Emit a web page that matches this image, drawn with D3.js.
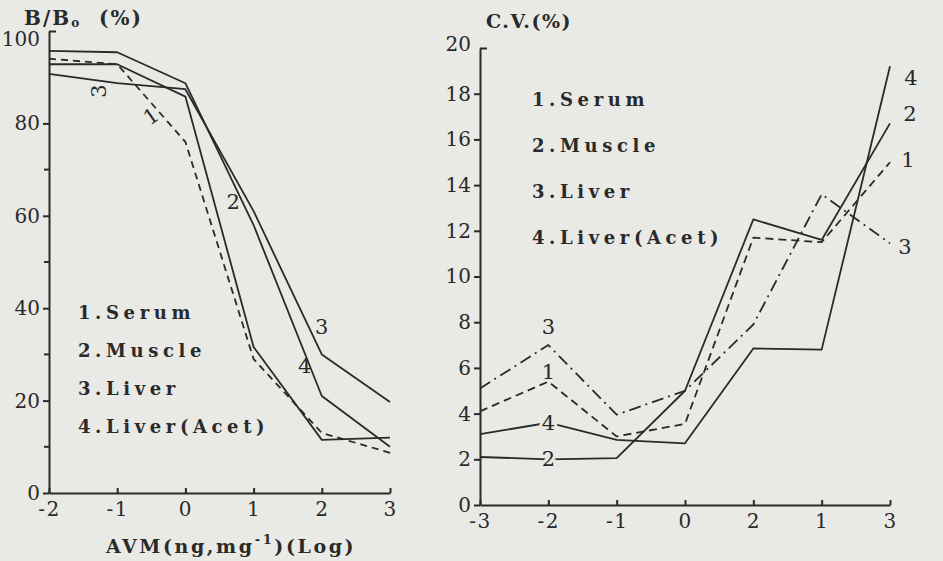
<!DOCTYPE html>
<html>
<head>
<meta charset="utf-8">
<script src="https://cdn.jsdelivr.net/npm/d3@7"></script>
<style>
	body {margin: 0; background: #e9e9e5;}
	svg {display: block;}
	text {font-family: "DejaVu Serif", serif; fill: #2a2a2a;}
</style>
</head>
<body>
<svg width="943" height="561"></svg>
<script>
'use strict';
// left panel: B/B0 against log dose
let aXLeft = [-2, -1, 0, 1, 2, 3]
let aSerumLeft = [94, 92.8, 76, 29, 13, 8.7]
let aMuscleLeft = [92.8, 92.8, 85.8, 31.6, 11.5, 12]
let aLiverLeft = [90.7, 88.7, 87.4, 61, 30, 19.7]
let aAcetLeft = [95.7, 95.4, 88.7, 58, 21, 10]

// right panel: C.V. (tick labels printed as in the original)
let aXRight = ["-3", "-2", "-1", "0", "2", "1", "3"]
let aSerumRight = [4.1, 5.4, 3.0, 3.55, 11.7, 11.5, 15.0]
let aMuscleRight = [2.1, 2.0, 2.05, 5.0, 12.5, 11.6, 16.7]
let aLiverRight = [5.1, 7.0, 3.95, 5.0, 7.9, 13.6, 11.45]
let aAcetRight = [3.1, 3.6, 2.85, 2.7, 6.85, 6.8, 19.2]

let aLegend = ["1.Serum", "2.Muscle", "3.Liver", "4.Liver(Acet)"]

let eSvg = d3.select("svg")
let cInk = "#2a2a2a", cPaper = "#e9e9e5"

let xL = d3.scaleLinear().domain([-2, 3]).range([49, 390])
let yL = d3.scaleLinear().domain([0, 100]).range([493, 31])
let xR = d3.scalePoint().domain(aXRight).range([480, 890])
let yR = d3.scaleLinear().domain([0, 20]).range([505, 48])

function styleAxis(g, spacing) {
	g.selectAll("path, line").attr("stroke", cInk).attr("stroke-width", 2)
	g.selectAll("text").attr("font-size", 20).attr("fill", cInk)
		.attr("letter-spacing", spacing).style("font-family", "'DejaVu Serif', serif")}

// y axes
function yAxis(scale, x, ticks, minor, top, topShift) {
	let g = eSvg.append("g").attr("transform", `translate(${x},0)`)
		.call(d3.axisLeft(scale).tickValues(ticks).tickSize(6).tickSizeOuter(0).tickPadding(3))
	g.call(styleAxis, 0)
	let eTop = g.selectAll(".tick").filter(d => d === top)
	eTop.select("line").attr("x2", 7)
	eTop.select("text").attr("y", topShift)
	eSvg.append("g").selectAll("line").data(minor).enter().append("line")
		.attr("x1", x - 5).attr("x2", x)
		.attr("y1", d => scale(d)).attr("y2", d => scale(d))
		.attr("stroke", cInk).attr("stroke-width", 2)
	return g}

yAxis(yL, xL(-2), [0, 20, 40, 60, 80, 100], [10, 30, 50, 70], 100, 8)
yAxis(yR, xR("-3"), d3.range(0, 21, 2), [], 20, -4)

// x axes, ticks pointing up
let gXL = eSvg.append("g").attr("transform", `translate(0,${yL(0)})`)
	.call(d3.axisBottom(xL).tickValues(aXLeft).tickSizeInner(-5).tickSizeOuter(0).tickPadding(9)
		.tickFormat(d => d < 0 ? "-" + Math.abs(d) : d))
gXL.call(styleAxis, 1.5)

let gXR = eSvg.append("g").attr("transform", `translate(0,${yR(0)})`)
	.call(d3.axisBottom(xR).tickSizeInner(-5).tickSizeOuter(0).tickPadding(9))
gXR.call(styleAxis, 1.5)

// axis titles
eSvg.append("text").attr("x", 24).attr("y", 25).attr("font-size", 20).attr("letter-spacing", 2)
	.attr("font-weight", "bold")
	.html('B/B<tspan font-size="12" dy="2">o</tspan><tspan dy="-2" xml:space="preserve">  (%)</tspan>')
eSvg.append("text").attr("x", 486).attr("y", 28).attr("font-size", 19).attr("letter-spacing", 1.5)
	.attr("font-weight", "bold")
	.text("C.V.(%)")
eSvg.append("text").attr("x", 106).attr("y", 553).attr("font-size", 19).attr("letter-spacing", 2.6)
	.attr("font-weight", "bold")
	.html('AVM(ng,mg<tspan font-size="13" dy="-9">-1</tspan><tspan dy="9">)(Log)</tspan>')

// curves
function drawSeries(xs, xScale, yScale, rows) {
	let line = d3.line().x((d, i) => xScale(xs[i])).y(d => yScale(d))
	eSvg.append("g").selectAll("path").data(rows).enter().append("path")
		.attr("d", d => line(d.v))
		.attr("fill", "none").attr("stroke", cInk).attr("stroke-width", 1.8)
		.attr("stroke-linejoin", "round")
		.attr("stroke-dasharray", d => d.dash)}

drawSeries(aXLeft, xL, yL, [
	{v: aSerumLeft, dash: "7,5"},
	{v: aMuscleLeft, dash: null},
	{v: aLiverLeft, dash: null},
	{v: aAcetLeft, dash: null}])

drawSeries(aXRight, xR, yR, [
	{v: aSerumRight, dash: "8,5"},
	{v: aMuscleRight, dash: null},
	{v: aLiverRight, dash: "12,5,2,5"},
	{v: aAcetRight, dash: null}])

// legends
function legend(x, y0, step) {
	eSvg.append("g").selectAll("text").data(aLegend).enter().append("text")
		.attr("x", x).attr("y", (d, i) => y0 + i * step)
		.attr("font-size", 18).attr("font-weight", "bold").attr("letter-spacing", 4.6)
		.text(d => d)}
legend(78, 319, 38)
legend(532, 106, 46)

// curve numbers, anchored in data space
function tag(s, x, y, rot, gap) {
	let t = eSvg.append("text").attr("x", x).attr("y", y)
		.attr("font-size", 21)
		.attr("text-anchor", "middle").attr("dominant-baseline", "central")
		.attr("transform", rot ? `rotate(${rot},${x},${y})` : null)
		.text(s)
	if (gap) t.attr("stroke", cPaper).attr("stroke-width", 6).attr("paint-order", "stroke")}

tag("3", xL(-1.27), yL(87), -90)
tag("1", xL(-0.5), yL(81.5), -35)
tag("2", xL(0.7), yL(63))
tag("3", xL(2.0), yL(36))
tag("4", xL(1.75), yL(27.5))

tag("3", xR("-2"), yR(7.8))
tag("1", xR("-2"), yR(5.8))
tag("4", xR("-2"), yR(3.6), 0, true)
tag("2", xR("-2"), yR(2.0), 0, true)
tag("4", xR("3") + 21, yR(18.7))
tag("2", xR("3") + 20, yR(17.1))
tag("1", xR("3") + 18, yR(15.1))
tag("3", xR("3") + 15, yR(11.3))
</script>
</body>
</html>
